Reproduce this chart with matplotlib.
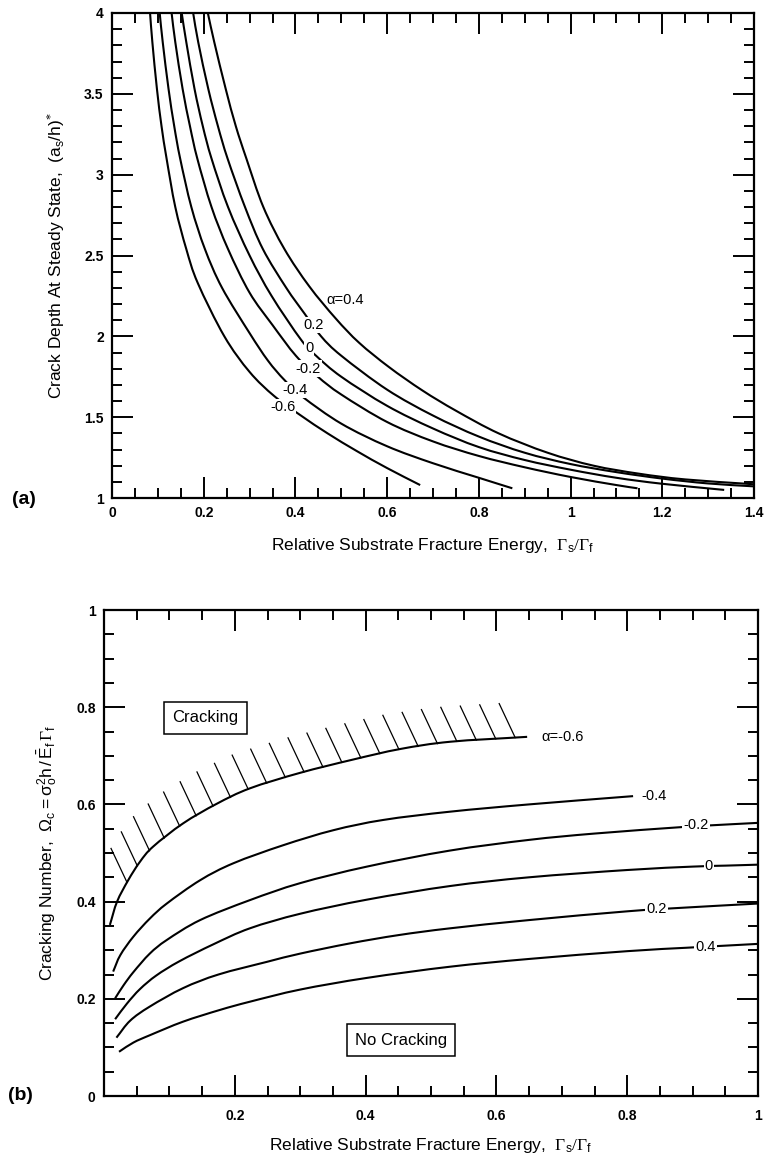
import numpy as np
import matplotlib
matplotlib.use('Agg')
import matplotlib.pyplot as plt
from matplotlib.ticker import MultipleLocator
from matplotlib.path import Path
from matplotlib.patches import PathPatch

plt.rcParams['font.family'] = ['Liberation Sans', 'DejaVu Sans']
plt.rcParams['mathtext.fontset'] = 'custom'
plt.rcParams['mathtext.rm'] = 'Liberation Serif'
plt.rcParams['mathtext.sf'] = 'Liberation Sans'
plt.rcParams['mathtext.it'] = 'Liberation Sans:italic'
plt.rcParams['mathtext.bf'] = 'Liberation Sans:bold'

# ---- (a) crack depth at steady state vs relative substrate fracture energy
a_alpha = ['-0.6', '-0.4', '-0.2', '0', '0.2', '0.4']
a_x = {
    '-0.6': [0.083, 0.088, 0.098, 0.108, 0.119, 0.138, 0.162, 0.187, 0.245, 0.3, 0.354, 0.412, 0.47, 0.534, 0.6, 0.672],
    '-0.4': [0.104, 0.1106, 0.1233, 0.1357, 0.1486, 0.173, 0.2026, 0.24, 0.3, 0.34, 0.376, 0.416, 0.5, 0.6, 0.7, 0.8, 0.873],
    '-0.2': [0.130, 0.138, 0.154, 0.170, 0.186, 0.217, 0.253, 0.3, 0.35, 0.401, 0.449, 0.5, 0.6, 0.7, 0.8, 0.9, 1.0, 1.1, 1.146],
    '0':    [0.152, 0.162, 0.180, 0.198, 0.217, 0.253, 0.30, 0.348, 0.412, 0.445, 0.5, 0.6, 0.7, 0.8, 0.9, 1.0, 1.1, 1.2, 1.335],
    '0.2':  [0.177, 0.188, 0.210, 0.231, 0.252, 0.29, 0.329, 0.38, 0.42, 0.456, 0.5, 0.6, 0.7, 0.8, 0.9, 1.0, 1.1, 1.2, 1.3, 1.4],
    '0.4':  [0.209, 0.223, 0.248, 0.27, 0.293, 0.33, 0.376, 0.43, 0.488, 0.539, 0.604, 0.677, 0.75, 0.843, 0.95, 1.05, 1.15, 1.25, 1.4],
}
a_y = {
    '-0.6': [4.0, 3.82, 3.53, 3.3, 3.10, 2.8, 2.54, 2.33, 2.0, 1.78, 1.63, 1.51, 1.40, 1.29, 1.185, 1.08],
    '-0.4': [4.0, 3.82, 3.53, 3.3, 3.10, 2.8, 2.54, 2.30, 2.02, 1.85, 1.73, 1.625, 1.46, 1.32, 1.215, 1.125, 1.06],
    '-0.2': [4.0, 3.82, 3.53, 3.3, 3.10, 2.8, 2.54, 2.27, 2.07, 1.88, 1.75, 1.64, 1.47, 1.35, 1.26, 1.19, 1.13, 1.08, 1.06],
    '0':    [4.0, 3.82, 3.53, 3.3, 3.10, 2.8, 2.50, 2.25, 1.98, 1.88, 1.75, 1.57, 1.43, 1.315, 1.235, 1.175, 1.125, 1.088, 1.05],
    '0.2':  [4.0, 3.82, 3.53, 3.3, 3.10, 2.8, 2.54, 2.30, 2.14, 2.0, 1.88, 1.67, 1.51, 1.38, 1.28, 1.21, 1.16, 1.12, 1.09, 1.072],
    '0.4':  [4.0, 3.82, 3.53, 3.3, 3.10, 2.8, 2.54, 2.31, 2.11, 1.96, 1.81, 1.665, 1.54, 1.40, 1.28, 1.2, 1.15, 1.115, 1.085],
}
a_labels = {'-0.6': (0.372, 1.56, '-0.6'), '-0.4': (0.398, 1.67, '-0.4'),
            '-0.2': (0.427, 1.80, '-0.2'), '0': (0.43, 1.93, '0'),
            '0.2': (0.44, 2.07, '0.2')}

# ---- (b) cracking number vs relative substrate fracture energy
b_x = {
    '-0.6': [0.009, 0.02, 0.037, 0.055, 0.075, 0.121, 0.172, 0.223, 0.3, 0.38, 0.453, 0.53, 0.647],
    '-0.4': [0.014, 0.025, 0.045, 0.07, 0.096, 0.147, 0.198, 0.274, 0.351, 0.427, 0.529, 0.65, 0.809],
    '-0.2': [0.017, 0.03, 0.045, 0.07, 0.096, 0.147, 0.223, 0.3, 0.402, 0.529, 0.65, 0.75, 0.88, 0.929, 1.0],
    '0':    [0.017, 0.035, 0.055, 0.08, 0.115, 0.167, 0.223, 0.3, 0.402, 0.529, 0.65, 0.8, 0.9, 0.95, 1.0],
    '0.2':  [0.019, 0.04, 0.070, 0.121, 0.175, 0.249, 0.3, 0.376, 0.45, 0.529, 0.65, 0.8, 0.88, 1.0],
    '0.4':  [0.023, 0.045, 0.070, 0.121, 0.177, 0.223, 0.3, 0.402, 0.529, 0.65, 0.8, 0.89, 0.945, 1.0],
}
b_y = {
    '-0.6': [0.352, 0.40, 0.444, 0.482, 0.513, 0.561, 0.601, 0.633, 0.665, 0.692, 0.714, 0.729, 0.739],
    '-0.4': [0.256, 0.29, 0.328, 0.365, 0.396, 0.444, 0.479, 0.516, 0.547, 0.568, 0.585, 0.60, 0.617],
    '-0.2': [0.201, 0.228, 0.255, 0.293, 0.321, 0.362, 0.403, 0.438, 0.472, 0.505, 0.527, 0.54, 0.553, 0.557, 0.562],
    '0':    [0.158, 0.19, 0.22, 0.248, 0.277, 0.312, 0.345, 0.375, 0.404, 0.432, 0.45, 0.465, 0.472, 0.474, 0.476],
    '0.2':  [0.12, 0.155, 0.184, 0.222, 0.25, 0.276, 0.293, 0.314, 0.331, 0.345, 0.362, 0.38, 0.387, 0.396],
    '0.4':  [0.091, 0.11, 0.125, 0.153, 0.177, 0.194, 0.219, 0.243, 0.266, 0.282, 0.298, 0.305, 0.309, 0.313],
}
b_inline = {'-0.2': (0.905, 0.557, '-0.2'), '0': (0.925, 0.474, '0'),
            '0.2': (0.845, 0.384, '0.2'), '0.4': (0.92, 0.307, '0.4')}

W, H = 764, 1164
fig = plt.figure(figsize=(W / 100, H / 100), dpi=100)


def smooth_line(ax, x, y):
    # smooth curve through every read point (Catmull-Rom drawn as Bezier segments)
    P = np.column_stack([x, y])
    E = np.vstack([2 * P[0] - P[1], P, 2 * P[-1] - P[-2]])
    verts, codes = [P[0]], [Path.MOVETO]
    for i in range(len(P) - 1):
        p0, p1, p2, p3 = E[i], E[i + 1], E[i + 2], E[i + 3]
        verts += [p1 + (p2 - p0) / 6, p2 - (p3 - p1) / 6, p2]
        codes += [Path.CURVE4] * 3
    ax.add_patch(PathPatch(Path(verts, codes), fill=False, lw=1.5,
                           edgecolor='black', capstyle='butt'))


def style_axes(ax):
    for s in ax.spines.values():
        s.set_linewidth(1.6)
    ax.tick_params(which='both', direction='in', top=True, right=True, width=1.4)
    ax.tick_params(which='major', length=15, pad=6)
    ax.tick_params(which='minor', length=7)
    for lab in ax.get_xticklabels() + ax.get_yticklabels():
        lab.set_fontweight('bold')
        lab.set_fontsize(10)


# ---------------- top panel
ax1 = fig.add_axes([112 / W, 1 - 498 / H, 642 / W, 485 / H])
for a in a_alpha:
    smooth_line(ax1, a_x[a], a_y[a])
ax1.set_xlim(0, 1.4)
ax1.set_ylim(1, 4)
ax1.set_xticks([0, 0.2, 0.4, 0.6, 0.8, 1.0, 1.2, 1.4],
               ['0', '0.2', '0.4', '0.6', '0.8', '1', '1.2', '1.4'])
ax1.set_yticks([1, 1.5, 2, 2.5, 3, 3.5, 4], ['1', '1.5', '2', '2.5', '3', '3.5', '4'])
ax1.xaxis.set_minor_locator(MultipleLocator(0.05))
ax1.yaxis.set_minor_locator(MultipleLocator(0.1))
style_axes(ax1)
for a, (lx, ly, txt) in a_labels.items():
    ax1.text(lx, ly, txt, fontsize=10.5, ha='center', va='center',
             bbox=dict(facecolor='white', edgecolor='none', pad=0.8))
ax1.text(0.468, 2.225, 'α=0.4', fontsize=10.5, ha='left', va='center')
ax1.set_xlabel(r'Relative Substrate Fracture Energy,  $\Gamma_{\mathsf{s}}/\Gamma_{\mathsf{f}}$',
               fontsize=12.5, labelpad=11)
ax1.set_ylabel(r'Crack Depth At Steady State,  (a$_{\mathsf{s}}$/h)$^{*}$',
               fontsize=12.5, labelpad=12)
fig.text(12 / W, 1 - 500 / H, '(a)', fontsize=14, fontweight='bold', ha='left', va='center')

# ---------------- bottom panel
ax2 = fig.add_axes([104 / W, 1 - 1096 / H, 654 / W, 486 / H])
for a in a_alpha:
    smooth_line(ax2, b_x[a], b_y[a])
ax2.set_xlim(0, 1)
ax2.set_ylim(0, 1)
ax2.set_xticks([0.2, 0.4, 0.6, 0.8, 1.0], ['0.2', '0.4', '0.6', '0.8', '1'])
ax2.set_yticks([0, 0.2, 0.4, 0.6, 0.8, 1.0], ['0', '0.2', '0.4', '0.6', '0.8', '1'])
ax2.xaxis.set_minor_locator(MultipleLocator(0.05))
ax2.yaxis.set_minor_locator(MultipleLocator(0.05))
style_axes(ax2)
ax2.tick_params(axis='x', which='major', pad=9)

# hatching above the alpha=-0.6 boundary
pts = ax2.transData.transform(np.column_stack([b_x['-0.6'], b_y['-0.6']]))
arc = np.concatenate([[0], np.cumsum(np.hypot(np.diff(pts[:, 0]), np.diff(pts[:, 1])))])
inv = ax2.transData.inverted()
for d in np.arange(46, arc[-1] - 6, 19.5):
    px = np.interp(d, arc, pts[:, 0])
    py = np.interp(d, arc, pts[:, 1])
    p0 = inv.transform((px, py))
    p1 = inv.transform((px - 16, py + 34))
    ax2.plot([p0[0], p1[0]], [p0[1], p1[1]], color='black', lw=0.9)

for a, (lx, ly, txt) in b_inline.items():
    ax2.text(lx, ly, txt, fontsize=10.5, ha='center', va='center',
             bbox=dict(facecolor='white', edgecolor='none', pad=0.8))
ax2.text(b_x['-0.6'][-1] + 0.022, b_y['-0.6'][-1], 'α=-0.6', fontsize=10.5, ha='left', va='center')
ax2.text(b_x['-0.4'][-1] + 0.012, b_y['-0.4'][-1], '-0.4', fontsize=10.5, ha='left', va='center')

box = dict(boxstyle='square,pad=0.5', facecolor='white', edgecolor='black', lw=1.1)
ax2.text(0.155, 0.778, 'Cracking', fontsize=12, ha='center', va='center', bbox=box)
ax2.text(0.454, 0.115, 'No Cracking', fontsize=12, ha='center', va='center', bbox=box)

ax2.set_xlabel(r'Relative Substrate Fracture Energy,  $\Gamma_{\mathsf{s}}/\Gamma_{\mathsf{f}}$',
               fontsize=12.5, labelpad=10)
ax2.set_ylabel(r'Cracking Number,  $\mathsf{\Omega_{c} = \sigma_{o}^{2}h\,/\,\bar{E}_{f}}\,\Gamma_{\mathsf{f}}$',
               fontsize=12.5, labelpad=12)
fig.text(8 / W, 1 - 1095 / H, '(b)', fontsize=14, fontweight='bold', ha='left', va='center')

fig.savefig('out.png', dpi=100)
